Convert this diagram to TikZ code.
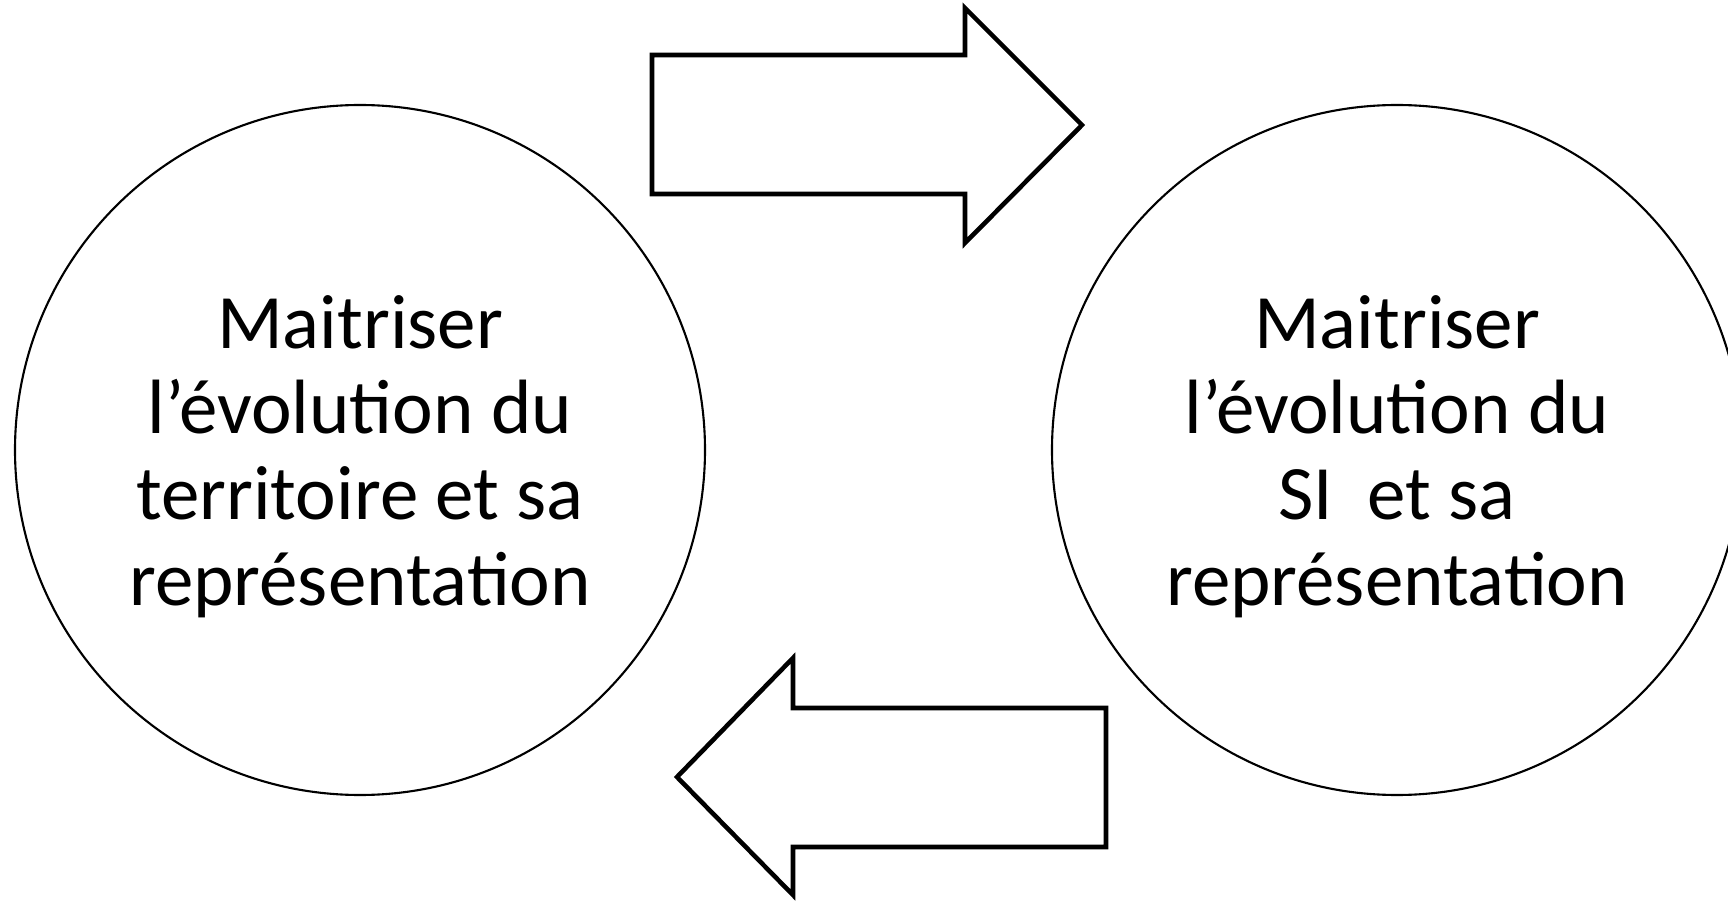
\documentclass[tikz,border=0pt]{standalone}
\usepackage{fontspec}
\setmainfont{Carlito}
\usepackage{tikz}
\usetikzlibrary{shapes,arrows}

\begin{document}
\begin{tikzpicture}\fontsize{21.9}{24.4}\selectfont
\tikzset{goal/.style={circle,draw,line width=0.6pt,minimum size=6.9cm,align=center,inner sep=0pt}}
\tikzset{blockarrow/.style={draw,line width=1.3pt,line join=miter,fill=white}}
%\tikzset{execute at begin node=\strut}
\clip (0,0) rectangle (17.28,9);
\useasboundingbox (0,0) rectangle (17.28,9);
\node[goal] (terr) at (3.60,4.50) {\rule{0pt}{0.66cm}Maitriser\\l’évolution du\\territoire et sa\\représentation};
\node[goal] (si) at (13.97,4.50) {\rule{0pt}{0.66cm}Maitriser\\l’évolution du\\SI\ \ et sa\\représentation};
\draw[blockarrow] (6.52,8.45) -- (9.65,8.45) -- (9.65,8.92) -- (10.82,7.75) -- (9.65,6.57) -- (9.65,7.06) -- (6.52,7.06) -- cycle;
\draw[blockarrow] (11.06,1.92) -- (7.93,1.92) -- (7.93,2.42) -- (6.77,1.23) -- (7.93,0.05) -- (7.93,0.53) -- (11.06,0.53) -- cycle;
\end{tikzpicture}
\end{document}
